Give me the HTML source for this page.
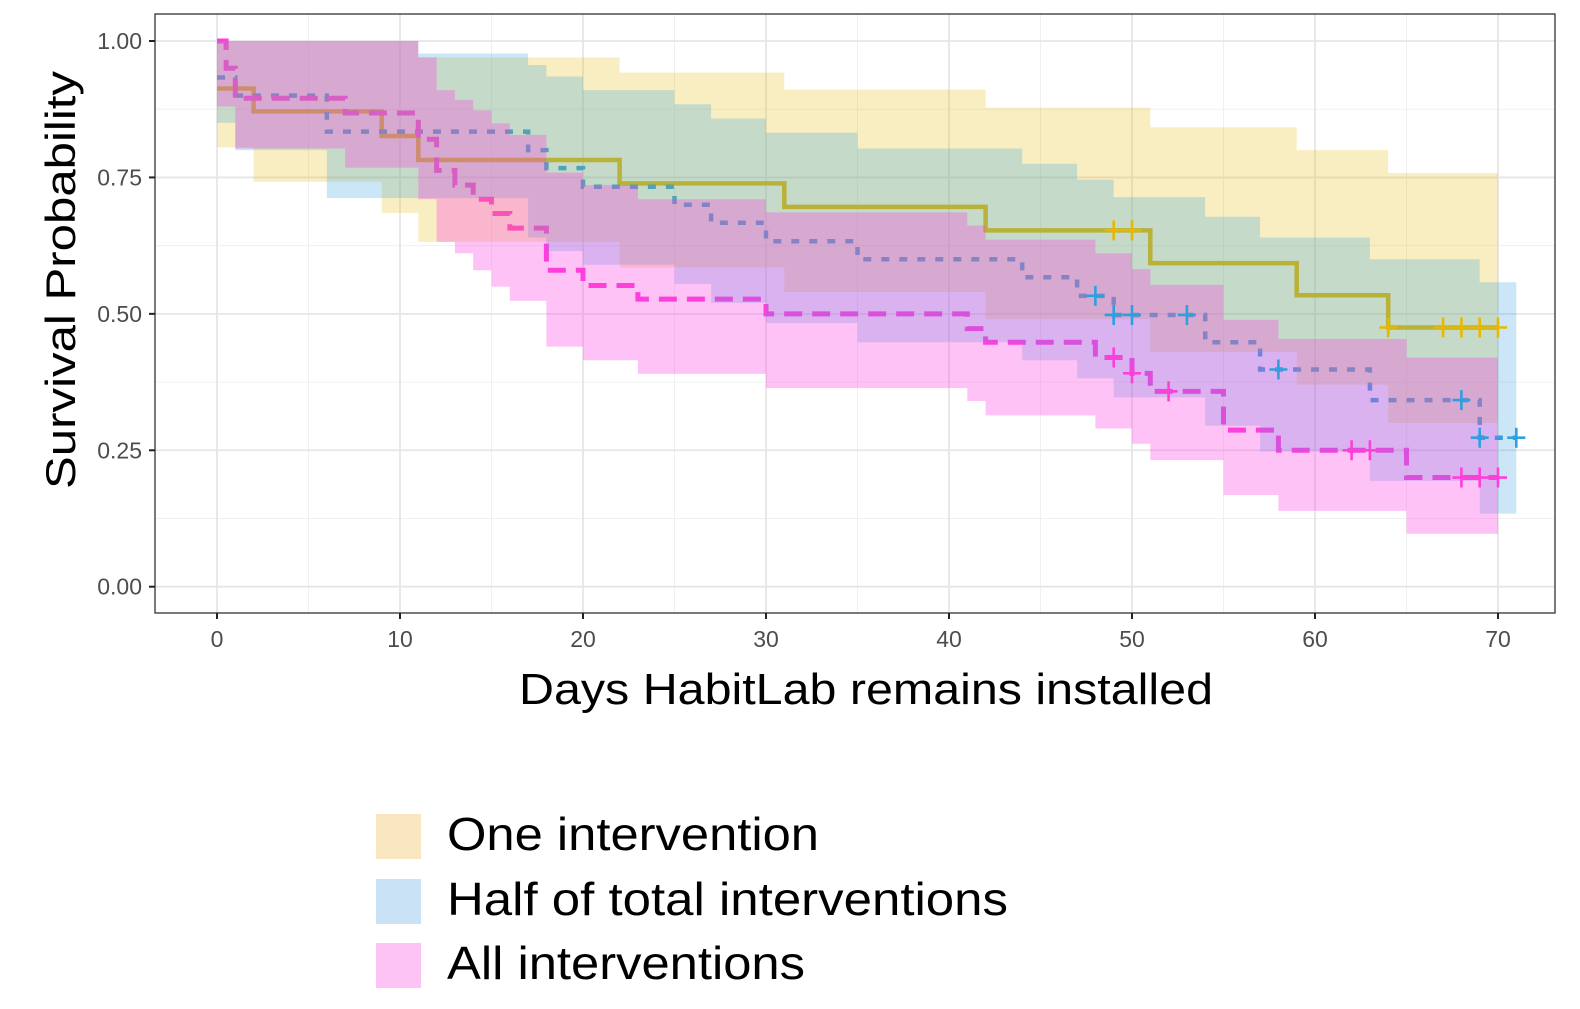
<!DOCTYPE html>
<html><head><meta charset="utf-8">
<style>
html,body{margin:0;padding:0;background:#fff;}
body{width:1580px;height:1004px;overflow:hidden;font-family:"Liberation Sans",sans-serif;}
svg text{font-family:"Liberation Sans",sans-serif;}
</style></head>
<body>
<svg id="chart" width="1580" height="1004" viewBox="0 0 1580 1004" xmlns="http://www.w3.org/2000/svg">
  <g id="grid"></g>
  <g id="lines"></g>
  <g id="bands"></g>
  <g id="censors"></g>
  <rect x="155" y="14" width="1400" height="599" fill="none" stroke="#333" stroke-width="1.3"/>
  <g id="axes"></g>
  <text transform="translate(75,280) rotate(-90)" text-anchor="middle" font-size="42" textLength="418" lengthAdjust="spacingAndGlyphs" fill="#000">Survival Probability</text>
  <text x="866" y="704" text-anchor="middle" font-size="44" textLength="694" lengthAdjust="spacingAndGlyphs" fill="#000">Days HabitLab remains installed</text>
  <g>
    <rect x="376" y="814" width="45" height="45" fill="#F7E6C0"/>
    <text x="447" y="850" font-size="46" textLength="372" lengthAdjust="spacingAndGlyphs" fill="#000">One intervention</text>
    <rect x="376" y="879" width="45" height="45" fill="#C9E2F5"/>
    <text x="447" y="915" font-size="46" textLength="561" lengthAdjust="spacingAndGlyphs" fill="#000">Half of total interventions</text>
    <rect x="376" y="943" width="45" height="45" fill="#FCC3F4"/>
    <text x="447" y="979" font-size="46" textLength="358" lengthAdjust="spacingAndGlyphs" fill="#000">All interventions</text>
  </g>
</svg>
<script>
// ---- data ----
const xTicks = [0,10,20,30,40,50,60,70];
const yTicks = [0,0.25,0.5,0.75,1];
const yTickLabels = ["0.00","0.25","0.50","0.75","1.00"];

const oneTimes = [0,2,9,11,22,31,42,51,59,64];
const oneSurv  = [0.913,0.871,0.826,0.782,0.739,0.696,0.653,0.593,0.534,0.475];
const oneBandTimes = [0,2,9,11,22,31,42,51,59,64];
const oneUpper = [1,1,1,0.97,0.942,0.911,0.878,0.842,0.80,0.758];
const oneLower = [0.805,0.742,0.685,0.632,0.585,0.54,0.49,0.43,0.37,0.30];
const oneCensor = [49,50,64,67,68,69,70];
const oneEnd = 70;

const halfTimes = [0,1,6,17,18,20,25,27,30,35,44,47,49,54,57,63,69];
const halfSurv  = [0.933,0.9,0.834,0.80,0.767,0.733,0.70,0.667,0.633,0.60,0.567,0.533,0.498,0.448,0.398,0.342,0.273];
const halfBandTimes = [0,1,6,11,17,18,20,25,27,30,35,44,47,49,54,57,63,69];
const halfUpper = [1,1,1,0.977,0.956,0.935,0.91,0.884,0.858,0.832,0.803,0.775,0.746,0.714,0.678,0.64,0.60,0.558];
const halfLower = [0.85,0.80,0.712,0.712,0.64,0.615,0.59,0.555,0.52,0.483,0.448,0.415,0.382,0.347,0.295,0.248,0.194,0.134];
const halfCensor = [48,49,50,53,58,68,69,71];
const halfEnd = 71;

const allTimes = [0,0.5,1,7,11,12,13,14,15,16,18,20,23,30,41,42,48,50,51,55,58,65];
const allSurv  = [1,0.95,0.895,0.868,0.82,0.763,0.736,0.71,0.684,0.657,0.58,0.552,0.527,0.50,0.473,0.448,0.42,0.391,0.358,0.287,0.25,0.20];
const allBandTimes = [0,1,7,11,12,13,14,15,16,18,20,23,30,41,42,48,50,51,55,58,65];
const allUpper = [1,1,1,0.97,0.91,0.892,0.873,0.849,0.828,0.759,0.736,0.71,0.686,0.662,0.636,0.611,0.582,0.553,0.489,0.454,0.42];
const allLower = [0.88,0.803,0.768,0.71,0.632,0.611,0.58,0.55,0.524,0.44,0.415,0.39,0.364,0.34,0.314,0.29,0.262,0.232,0.168,0.139,0.097];
const allCensor = [49,50,52,62,63,68,69,70];
const allEnd = 70;

// ---- scales ----
const NS = "http://www.w3.org/2000/svg";
function xs(d){ return 217 + d*18.3; }
function ys(s){ return 586.7 - s*545.7; }
function mk(tag, attrs, parent){
  const e = document.createElementNS(NS, tag);
  for (const k in attrs) e.setAttribute(k, attrs[k]);
  parent.appendChild(e);
  return e;
}
function stepAt(times, vals, t){
  let v = vals[0];
  for (let i=0;i<times.length;i++){ if (times[i] <= t) v = vals[i]; }
  return v;
}
function stepPath(times, vals, end){
  let d = "M" + xs(times[0]) + " " + ys(vals[0]);
  for (let i=1;i<times.length;i++){
    d += " H" + xs(times[i]) + " V" + ys(vals[i]);
  }
  d += " H" + xs(end);
  return d;
}
function bandPath(times, up, lo, end){
  let d = "M" + xs(times[0]) + " " + ys(up[0]);
  for (let i=1;i<times.length;i++) d += " H" + xs(times[i]) + " V" + ys(up[i]);
  d += " H" + xs(end) + " V" + ys(lo[lo.length-1]);
  for (let i=times.length-1;i>0;i--) d += " H" + xs(times[i]) + " V" + ys(lo[i-1]);
  d += " H" + xs(times[0]) + " Z";
  return d;
}

// ---- grid ----
const grid = document.getElementById('grid');
for (let d=5; d<=75; d+=10){
  const l = mk('line',{x1:xs(d),x2:xs(d),y1:14,y2:613,stroke:'#f0f0f0','stroke-width':1}, grid);
  
  
}
for (let s=0.125; s<1.1; s+=0.25){
  const l = mk('line',{x1:155,x2:1555,y1:ys(s),y2:ys(s),stroke:'#f0f0f0','stroke-width':1}, grid);
  
  
}
xTicks.forEach(d=>{
  const l = mk('line',{x1:xs(d),x2:xs(d),y1:14,y2:613,stroke:'#e6e6e6','stroke-width':1.8}, grid);
  
  
});
yTicks.forEach(s=>{
  const l = mk('line',{x1:155,x2:1555,y1:ys(s),y2:ys(s),stroke:'#e6e6e6','stroke-width':1.8}, grid);
  
  
});

// ---- lines ----
const lines = document.getElementById('lines');
const l1 = mk('path',{d:stepPath(oneTimes,oneSurv,oneEnd),fill:'none',stroke:'#E7B800','stroke-width':4.5}, lines);


const l2 = mk('path',{d:stepPath(halfTimes,halfSurv,halfEnd),fill:'none',stroke:'#2E9FDF','stroke-width':4.5,'stroke-dasharray':'8 10'}, lines);


const l3 = mk('path',{d:stepPath(allTimes,allSurv,allEnd),fill:'none',stroke:'#FF3FD8','stroke-width':5,'stroke-dasharray':'18 10'}, lines);



// ---- bands ----
const bands = document.getElementById('bands');
const b1 = mk('path',{d:bandPath(oneBandTimes,oneUpper,oneLower,oneEnd),fill:'rgba(231,184,0,0.24)'}, bands);


const b2 = mk('path',{d:bandPath(halfBandTimes,halfUpper,halfLower,halfEnd),fill:'rgba(46,159,223,0.25)'}, bands);


const b3 = mk('path',{d:bandPath(allBandTimes,allUpper,allLower,allEnd),fill:'rgba(252,64,228,0.32)'}, bands);



// ---- censors ----
const cg = document.getElementById('censors');
function censors(list, times, vals, color, name){
  list.forEach(t=>{
    const x = xs(t), y = ys(stepAt(times, vals, t));
    const p = mk('path',{d:`M${x-9} ${y} H${x+9} M${x} ${y-10} V${y+10}`,stroke:color,'stroke-width':2.6,fill:'none'}, cg);
    
    
  });
}
censors(oneCensor, oneTimes, oneSurv, '#E7B800', 'one-censor-mark');
censors(halfCensor, halfTimes, halfSurv, '#2E9FDF', 'half-censor-mark');
censors(allCensor, allTimes, allSurv, '#FF3FD8', 'all-censor-mark');

// ---- axes ----
const ax = document.getElementById('axes');
xTicks.forEach(d=>{
  const t = mk('line',{x1:xs(d),x2:xs(d),y1:613,y2:619,stroke:'#222','stroke-width':2}, ax);
  
  
  const lb = mk('text',{x:xs(d),y:647,'text-anchor':'middle','font-size':23,fill:'#4d4d4d'}, ax);
  lb.textContent = String(d);
  
  
});
yTicks.forEach((s,i)=>{
  const t = mk('line',{x1:149,x2:155,y1:ys(s),y2:ys(s),stroke:'#222','stroke-width':2}, ax);
  
  
  const lb = mk('text',{x:142,y:ys(s)+8,'text-anchor':'end','font-size':23,fill:'#4d4d4d'}, ax);
  lb.textContent = yTickLabels[i];
  
  
});
</script>
</body></html>
